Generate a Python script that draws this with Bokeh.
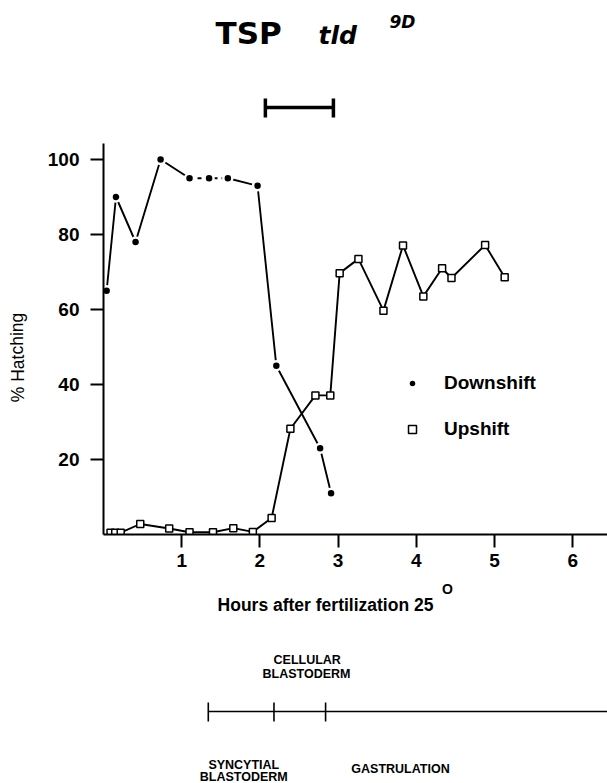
from bokeh.plotting import figure
from bokeh.models import Range1d, FixedTicker, Legend, LegendItem
from bokeh.layouts import column, row
from bokeh.core.properties import value
from bokeh.embed import file_html
from bokeh.resources import INLINE

# ---------------- data ----------------
hours_down = [0.04, 0.16, 0.41, 0.73, 1.10, 1.35, 1.59, 1.97, 2.21, 2.77, 2.91]
hatch_down = [65, 90, 78, 100, 95, 95, 95, 93, 45, 23, 11]

hours_up = [0.09, 0.15, 0.22, 0.47, 0.84, 1.10, 1.40, 1.66, 1.91, 2.15, 2.39,
            2.71, 2.90, 3.02, 3.26, 3.58, 3.83, 4.09, 4.33, 4.45, 4.88, 5.13]
hatch_up = [0.5, 0.5, 0.5, 2.8, 1.6, 0.6, 0.6, 1.7, 0.7, 4.4, 28.2,
            37.1, 37.1, 69.7, 73.5, 59.7, 77.1, 63.5, 71.0, 68.4, 77.2, 68.6]

x_ticks = [1, 2, 3, 4, 5, 6]
y_ticks = [20, 40, 60, 80, 100]

tsp_window = [2.07, 2.94]            # temperature-sensitive period (hours)
stage_bounds = [1.34, 2.18, 2.84]    # timeline tick marks (hours)

# ---------------- layout helpers (page pixels) ----------------
W = 607
X0_PX = 103          # page x of 0 h
PX_PER_H = 78.2
X_END = (W - X0_PX) / PX_PER_H
Y0_PX = 534          # page y of 0 %
PX_PER_PCT = 3.75
Y_TOP_PX = 143
Y_END = (Y0_PX - Y_TOP_PX) / PX_PER_PCT

def hx(px):
    return (px - X0_PX) / PX_PER_H

FONT = "Liberation Sans"
x_range = Range1d(0, X_END)

def blank(width, height, xr, yr, left=0):
    f = figure(width=width, height=height, x_range=xr, y_range=yr,
               x_axis_type=None, y_axis_type=None, output_backend="svg",
               toolbar_location=None, min_border_left=left, min_border_right=0,
               min_border_top=0, min_border_bottom=0, outline_line_color=None)
    return f

# ---------------- top: title + TSP bracket ----------------
TOP_H = 125
top = blank(W, TOP_H, x_range, Range1d(TOP_H, 0), left=X0_PX)
top.text(x=[hx(215)], y=[32.5], text=["TSP"], text_font=value("DejaVu Sans"),
         text_font_style="bold", text_font_size="31px", text_baseline="middle",
         text_color="black")
top.text(x=[hx(318)], y=[35], text=["tld"], text_font=value("DejaVu Sans"),
         text_font_style="bold italic", text_font_size="25px",
         text_baseline="middle", text_color="black")
top.text(x=[hx(389)], y=[21], text=["9D"], text_font=value("DejaVu Sans"),
         text_font_style="bold italic", text_font_size="17px",
         text_baseline="middle", text_color="black")
bar_y = 107
top.segment(x0=[tsp_window[0]], y0=[bar_y], x1=[tsp_window[1]], y1=[bar_y],
            line_color="black", line_width=3.5)
top.segment(x0=tsp_window, y0=[bar_y - 9] * 2, x1=tsp_window, y1=[bar_y + 10] * 2,
            line_color="black", line_width=3.5)

# ---------------- main chart ----------------
MAIN_TOP = TOP_H
MAIN_H = 455
YLAB_W = 30
p = figure(width=W - YLAB_W, height=MAIN_H, x_range=x_range,
           y_range=Range1d(0, Y_END), output_backend="svg", toolbar_location=None,
           min_border_left=X0_PX - YLAB_W, min_border_right=0,
           min_border_top=Y_TOP_PX - MAIN_TOP,
           min_border_bottom=MAIN_H - (Y0_PX - MAIN_TOP), outline_line_color=None)
p.grid.visible = False
for ax, ticks in ((p.xaxis, x_ticks), (p.yaxis, y_ticks)):
    ax.ticker = FixedTicker(ticks=ticks)
    ax.minor_tick_line_color = None
    ax.major_tick_in = 0
    ax.major_tick_out = 13
    ax.major_tick_line_width = 2
    ax.axis_line_width = 2
    ax.major_label_text_font = FONT
    ax.major_label_text_font_style = "bold"
    ax.major_label_text_font_size = "19px"
    ax.major_label_text_color = "black"
p.xaxis.major_label_standoff = 6
p.yaxis.major_label_standoff = 11

LW = 1.9
p.line(hours_down[:5], hatch_down[:5], line_color="black", line_width=LW)
p.line(hours_down[4:7], hatch_down[4:7], line_color="black", line_width=LW,
       line_dash="4 4")
p.line(hours_down[6:], hatch_down[6:], line_color="black", line_width=LW)
p.line(hours_up, hatch_up, line_color="black", line_width=LW)

down_r = p.scatter(hours_down, hatch_down, marker="circle", size=9,
                   fill_color="black", line_color="white", line_width=2.5)
up_r = p.scatter(hours_up, hatch_up, marker="square", size=7,
                 fill_color="white", line_color="black", line_width=1.5)

legend = Legend(items=[LegendItem(label="Downshift", renderers=[down_r]),
                       LegendItem(label="Upshift", renderers=[up_r])],
                location=(402 - X0_PX, Y0_PX - 440), orientation="vertical",
                spacing=24, glyph_width=20, glyph_height=20, label_height=20,
                label_standoff=22, padding=0, margin=0,
                border_line_color=None, background_fill_alpha=0,
                label_text_font=FONT, label_text_font_style="bold",
                label_text_font_size="19px", label_text_color="black")
p.add_layout(legend)

# y-axis title in a narrow strip to the left of the chart
ylab = blank(YLAB_W, MAIN_H, Range1d(0, YLAB_W), Range1d(0, MAIN_H))
ylab.text(x=[17], y=[MAIN_H - (374 - MAIN_TOP)], text=["% Hatching"],
          angle=1.5708, text_align="center", text_baseline="middle",
          text_font=value(FONT), text_font_size="17.5px", text_color="black")

# ---------------- bottom: x title + developmental timeline ----------------
BOT_TOP = MAIN_TOP + MAIN_H
BOT_H = 783 - BOT_TOP
bot = blank(W, BOT_H, x_range, Range1d(BOT_H, 0), left=X0_PX)
bot.text(x=[hx(325)], y=[604 - BOT_TOP], text=["Hours after fertilization 25"],
         text_align="center", text_baseline="middle", text_font=value(FONT),
         text_font_style="bold", text_font_size="17.5px", text_color="black")
bot.text(x=[hx(447)], y=[588 - BOT_TOP], text=["O"],
         text_align="center", text_baseline="middle", text_font=value(FONT),
         text_font_style="bold", text_font_size="14px", text_color="black")

line_y = 711 - BOT_TOP
bot.segment(x0=[stage_bounds[0]], y0=[line_y], x1=[X_END], y1=[line_y],
            line_color="black", line_width=1.6)
bot.segment(x0=stage_bounds, y0=[702 - BOT_TOP] * 3, x1=stage_bounds,
            y1=[721 - BOT_TOP] * 3, line_color="black", line_width=1.6)

stage_text = ["CELLULAR", "BLASTODERM", "SYNCYTIAL", "BLASTODERM", "GASTRULATION"]
stage_px = [(306.7, 659), (306, 673), (243.3, 764), (243.3, 776), (400, 768)]
bot.text(x=[hx(a) for a, b in stage_px], y=[b - BOT_TOP for a, b in stage_px],
         text=stage_text, text_font=value(FONT), text_font_style="bold",
         text_font_size="12.5px", text_align="center", text_baseline="middle",
         text_color="black")

layout = column(top, row(ylab, p), bot)
open("out.html", "w").write(file_html(layout, INLINE))
